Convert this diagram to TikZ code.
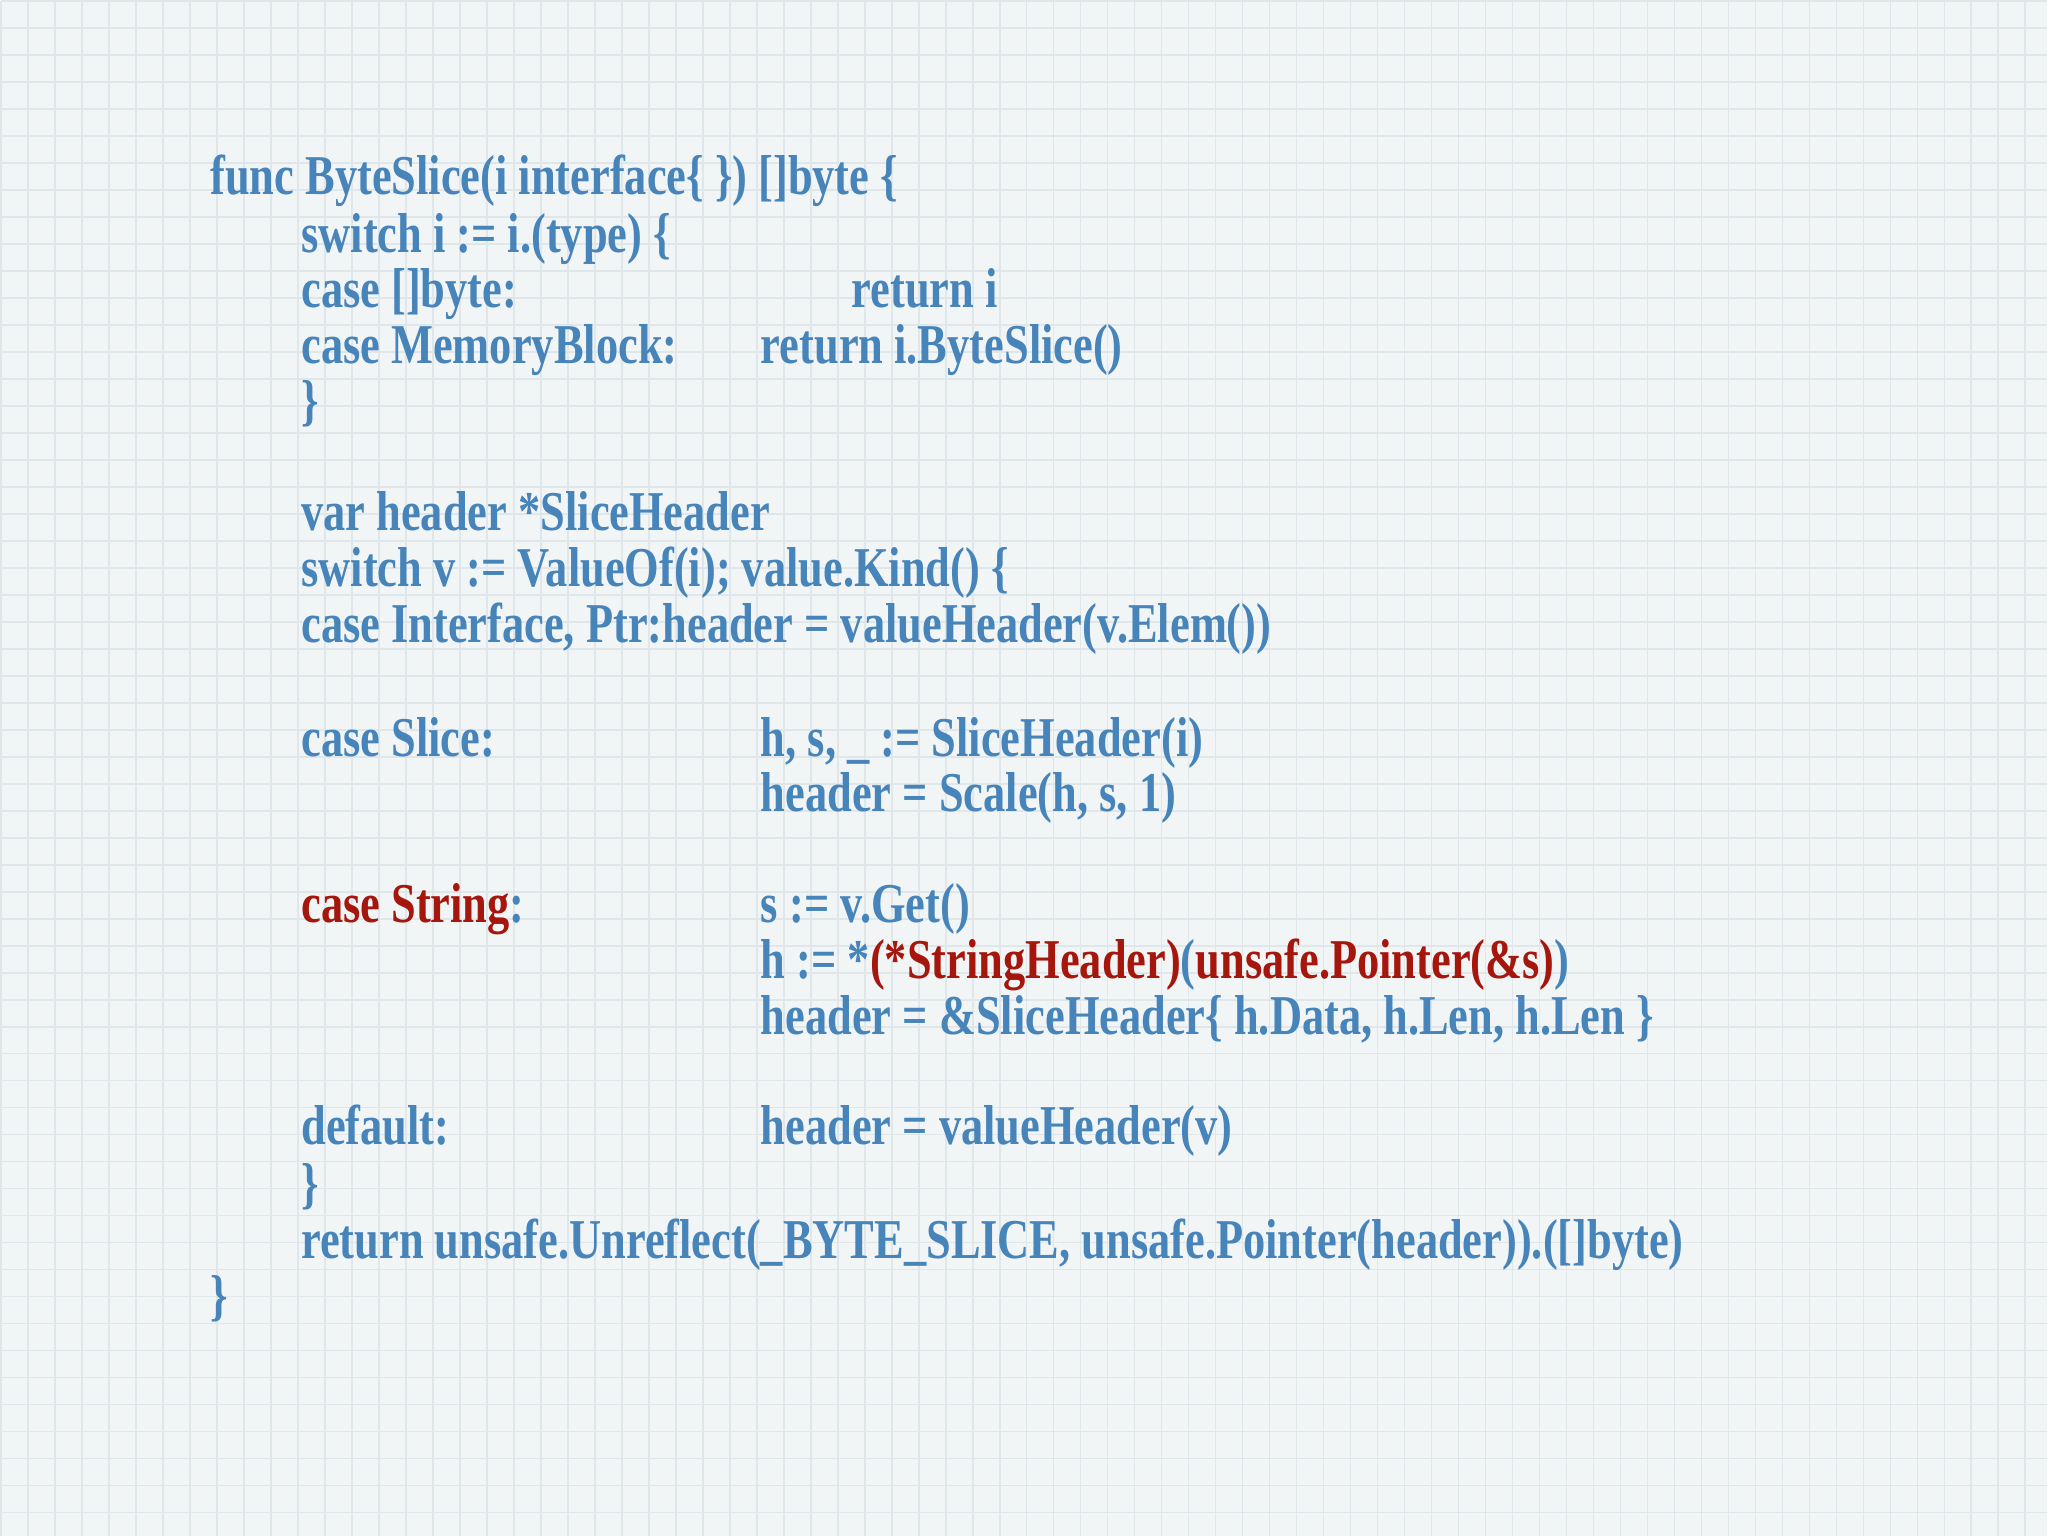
\documentclass[tikz,border=0pt]{standalone}
\usepackage{fontspec}
\setmainfont{Liberation Serif}
\usepackage{graphicx}
\definecolor{cb}{RGB}{70,132,185}
\definecolor{cr}{RGB}{165,22,12}
\definecolor{bg}{RGB}{242,245,246}
\definecolor{gl}{RGB}{224,231,235}
\newcommand{\ctx}[1]{\scalebox{0.79}[1]{#1}}
\newcommand{\R}[1]{\textcolor{cr}{#1}}
\tikzset{code/.style={anchor=base west,inner sep=0pt,text=cb,font=\fontsize{16}{18}\selectfont\bfseries}}
\begin{document}
\begin{tikzpicture}[x=0.01cm,y=-0.01cm]
\fill[bg] (0,0) rectangle (2048,1536);
\draw[gl,line width=0.5pt,step=0.27cm,yscale=-1] (0,-1536) grid (2048,0);
\begin{scope}[yshift=-0.18cm]
\node[code] (l1) at (209,176) {\ctx{func ByteSlice(i interface\{ \}) []byte \{}};
\node[code] (l2) at (300,234) {\ctx{switch i := i.(type) \{}};
\node[code] (l3a) at (300,289) {\ctx{case []byte:}};
\node[code] (l3b) at (851,289) {\ctx{return i}};
\node[code] (l4a) at (300,345) {\ctx{case MemoryBlock:}};
\node[code] (l4b) at (760,345) {\ctx{return i.ByteSlice()}};
\node[code] (l5) at (300,401) {\ctx{\}}};
\node[code] (l6) at (300,512) {\ctx{var header *SliceHeader}};
\node[code] (l7) at (300,568) {\ctx{switch v := ValueOf(i); value.Kind() \{}};
\node[code] (l8) at (300,624) {\ctx{case Interface, Ptr:header = valueHeader(v.Elem())}};
\node[code] (l9a) at (300,738) {\ctx{case Slice:}};
\node[code] (l9b) at (760,738) {\ctx{h, s, \_ := SliceHeader(i)}};
\node[code] (l10) at (760,793) {\ctx{header = Scale(h, s, 1)}};
\node[code] (l11a) at (300,904) {\ctx{\R{case String}:}};
\node[code] (l11b) at (760,904) {\ctx{s := v.Get()}};
\node[code] (l12) at (760,960) {\ctx{h := *\R{(*StringHeader)}(\R{unsafe.Pointer(\&s)})}};
\node[code] (l13) at (760,1016) {\ctx{header = \&SliceHeader\{ h.Data, h.Len, h.Len \}}};
\node[code] (l14a) at (300,1127) {\ctx{default:}};
\node[code] (l14b) at (760,1127) {\ctx{header = valueHeader(v)}};
\node[code] (l15) at (300,1185) {\ctx{\}}};
\node[code] (l16) at (300,1241) {\ctx{return unsafe.Unreflect(\_BYTE\_SLICE, unsafe.Pointer(header)).([]byte)}};
\node[code] (l17) at (209,1297) {\ctx{\}}};
\end{scope}
\end{tikzpicture}
\end{document}
